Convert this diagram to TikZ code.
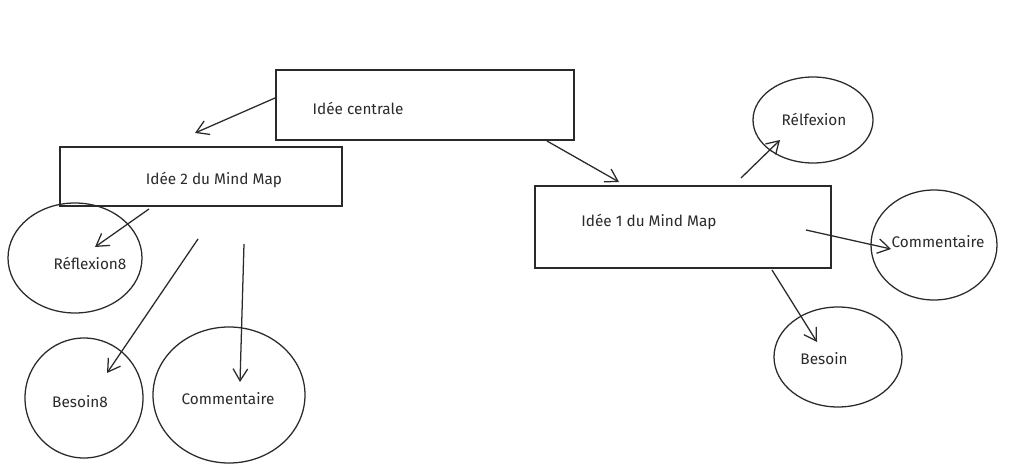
\documentclass[tikz,border=0pt]{standalone}
\usepackage{fontspec}
\setmainfont{Fira Sans}
\usetikzlibrary{arrows.meta,shapes.geometric}
\definecolor{ink}{HTML}{2A2A2A}
\begin{document}
\begin{tikzpicture}[x=0.75pt,y=-0.75pt,
  box/.style={draw=ink,line width=0.95pt,rectangle,inner sep=0pt},
  bubble/.style={draw=ink,line width=0.95pt,ellipse,inner sep=0pt},
  lbl/.style={font=\fontsize{11.5}{13}\selectfont,text=ink},
  link/.style={draw=ink,line width=0.95pt,-{Straight Barb[length=9pt,width=11pt,line width=0.95pt]}}]
\useasboundingbox[fill=white] (0,0) rectangle (1024,474);
% boxes
\node[box,minimum width=298*0.75pt,minimum height=70*0.75pt] (central) at (425,105) {};
\node[lbl] (tcentral) at (358,108) {Idée centrale};
\node[box,minimum width=282*0.75pt,minimum height=59*0.75pt] (idee2) at (201,176.5) {};
\node[lbl] (tidee2) at (214,180) {Idée 2 du Mind Map};
\node[box,minimum width=296*0.75pt,minimum height=82*0.75pt] (idee1) at (683,227) {};
\node[lbl] (tidee1) at (649,222) {Idée 1 du Mind Map};
% ellipses right
\node[bubble,minimum width=120*0.75pt,minimum height=86*0.75pt] (refl1) at (813,120) {};
\node[lbl] (trefl1) at (814,119) {Rélfexion};
\node[bubble,minimum width=126*0.75pt,minimum height=110*0.75pt] (comm1) at (934,245) {};
\node[lbl] (tcomm1) at (938,242) {Commentaire};
\node[bubble,minimum width=128*0.75pt,minimum height=100*0.75pt] (bes1) at (838,357) {};
\node[lbl] (tbes1) at (824,359) {Besoin};
% ellipses left
\node[bubble,minimum width=134*0.75pt,minimum height=110*0.75pt] (refl2) at (75,258) {};
\node[lbl] (trefl2) at (90,263) {Réflexion8};
\node[bubble,minimum width=118*0.75pt,minimum height=120*0.75pt] (bes2) at (84,398) {};
\node[lbl] (tbes2) at (80,402) {Besoin8};
\node[bubble,minimum width=152*0.75pt,minimum height=136*0.75pt] (comm2) at (229,395) {};
\node[lbl] (tcomm2) at (228,399) {Commentaire};
% connector ends
\coordinate (a1s) at (275,98);  \coordinate (a1e) at (195,133);
\coordinate (a2s) at (547,141); \coordinate (a2e) at (619,182);
\coordinate (a3s) at (149,209); \coordinate (a3e) at (95,247);
\coordinate (a4s) at (198,239); \coordinate (a4e) at (107,373);
\coordinate (a5s) at (244,244); \coordinate (a5e) at (240,382);
\coordinate (a6s) at (741,178); \coordinate (a6e) at (780,140);
\coordinate (a7s) at (806,230); \coordinate (a7e) at (891,249);
\coordinate (a8s) at (772,270); \coordinate (a8e) at (817,342);
\draw[link] (a1s) -- (a1e);
\draw[link] (a2s) -- (a2e);
\draw[link] (a3s) -- (a3e);
\draw[link] (a4s) -- (a4e);
\draw[link] (a5s) -- (a5e);
\draw[link] (a6s) -- (a6e);
\draw[link] (a7s) -- (a7e);
\draw[link] (a8s) -- (a8e);
\end{tikzpicture}
\end{document}
